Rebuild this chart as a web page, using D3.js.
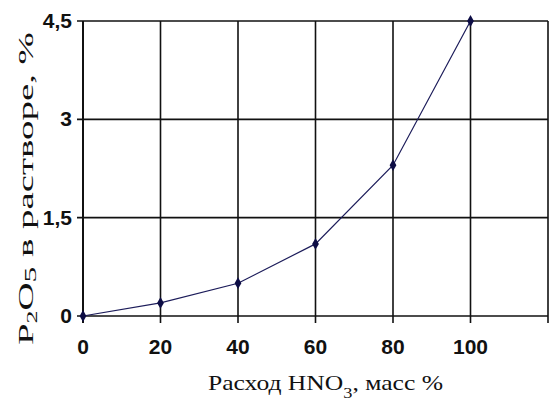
<!DOCTYPE html>
<html>
<head>
<meta charset="utf-8">
<script src="https://cdn.jsdelivr.net/npm/d3@7"></script>
<style>
  body { margin: 0; background: #fff; }
</style>
</head>
<body>
<svg id="chart"></svg>
<script>
// data
var xValues = [0, 20, 40, 60, 80, 100];
var yValues = [0, 0.2, 0.5, 1.1, 2.3, 4.5];
var xTicks = [0, 20, 40, 60, 80, 100, 120];
var xTickLabels = ["0", "20", "40", "60", "80", "100", ""];
var yTicks = [0, 1.5, 3, 4.5];
var yTickLabels = ["0", "1,5", "3", "4,5"];

var width = 549, height = 405;
var margin = {top: 21, right: 1, bottom: 89, left: 83};

var svg = d3.select("#chart")
    .attr("width", width)
    .attr("height", height);

var x = d3.scaleLinear()
    .domain([0, 120])
    .range([margin.left, width - margin.right]);

var y = d3.scaleLinear()
    .domain([0, 4.5])
    .range([height - margin.bottom, margin.top]);

// grid
var grid = svg.append("g");
grid.selectAll("line.h")
    .data(yTicks)
    .join("line")
    .attr("x1", x(0) - 6).attr("x2", x(120))
    .attr("y1", function(d) { return y(d); })
    .attr("y2", function(d) { return y(d); })
    .attr("stroke", "#111").attr("stroke-width", 1.6);

grid.selectAll("line.v")
    .data(xTicks)
    .join("line")
    .attr("x1", function(d) { return x(d); })
    .attr("x2", function(d) { return x(d); })
    .attr("y1", y(4.5)).attr("y2", y(0) + 7)
    .attr("stroke", "#111")
    .attr("stroke-width", function(d) { return d === 0 ? 2 : 1.6; });

// tick labels
var tickFont = "bold 21px 'Liberation Sans Narrow', 'Liberation Sans', Arial, sans-serif";
svg.selectAll("text.yt")
    .data(yTicks)
    .join("text")
    .attr("x", x(0) - 11)
    .attr("y", function(d) { return y(d) + 7; })
    .attr("text-anchor", "end")
    .style("font", tickFont)
    .attr("fill", "#111")
    .text(function(d, i) { return yTickLabels[i]; });

svg.selectAll("text.xt")
    .data(xTicks)
    .join("text")
    .attr("x", function(d) { return x(d); })
    .attr("y", y(0) + 38)
    .attr("text-anchor", "middle")
    .style("font", tickFont)
    .attr("fill", "#111")
    .text(function(d, i) { return xTickLabels[i]; });

// axis titles
var titleFont = "21px 'Liberation Serif', 'Times New Roman', serif";
var xTitle = svg.append("text")
    .attr("x", 208)
    .attr("y", 390)
    .attr("textLength", 235)
    .attr("lengthAdjust", "spacingAndGlyphs")
    .style("font", titleFont)
    .attr("fill", "#111");
xTitle.append("tspan").text("Расход HNO");
xTitle.append("tspan").attr("dy", 8).style("font-size", "15px").text("3");
xTitle.append("tspan").attr("dy", -8).text(", масс %");

var yTitle = svg.append("text")
    .attr("transform", "translate(33,345) rotate(-90)")
    .attr("textLength", 313)
    .attr("lengthAdjust", "spacingAndGlyphs")
    .style("font", titleFont)
    .attr("fill", "#111");
yTitle.append("tspan").text("P");
yTitle.append("tspan").attr("dy", 4).style("font-size", "14px").text("2");
yTitle.append("tspan").attr("dy", -4).text("O");
yTitle.append("tspan").attr("dy", 3).style("font-size", "17px").text("5");
yTitle.append("tspan").attr("dy", -3).text(" в растворе, %");

// series
var pts = xValues.map(function(d, i) { return {x: d, y: yValues[i]}; });

svg.append("path")
    .datum(pts)
    .attr("fill", "none")
    .attr("stroke", "#1c1c5a")
    .attr("stroke-width", 1.2)
    .attr("d", d3.line()
        .x(function(d) { return x(d.x); })
        .y(function(d) { return y(d.y); }));

svg.selectAll("path.pt")
    .data(pts)
    .join("path")
    .attr("transform", function(d) { return "translate(" + x(d.x) + "," + y(d.y) + ")"; })
    .attr("d", d3.symbol(d3.symbolDiamond, 40))
    .attr("fill", "#0d0d45");
</script>
</body>
</html>
